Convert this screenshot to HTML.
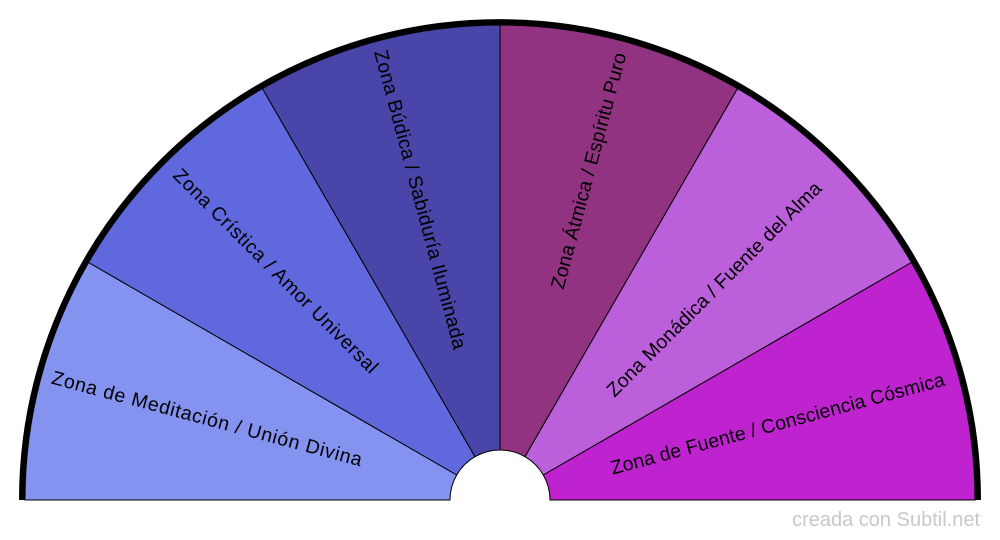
<!DOCTYPE html>
<html><head><meta charset="utf-8"><style>
html,body{margin:0;padding:0;background:#fff;}
svg{display:block;}
text{font-family:"Liberation Sans",Arial,sans-serif;font-size:19.5px;fill:#000;}
</style></head><body>
<svg width="1000" height="540" viewBox="0 0 1000 540" xmlns="http://www.w3.org/2000/svg">
<g stroke="#000" stroke-width="1">
<path d="M25,500 A475,475 0 0 1 88.6,262.5 L456.7,475 A50,50 0 0 0 450,500 Z" fill="#8593F0"/>
<path d="M88.6,262.5 A475,475 0 0 1 262.5,88.6 L475,456.7 A50,50 0 0 0 456.7,475 Z" fill="#5F68DD"/>
<path d="M262.5,88.6 A475,475 0 0 1 500,25 L500,450 A50,50 0 0 0 475,456.7 Z" fill="#4A45A8"/>
<path d="M500,25 A475,475 0 0 1 737.5,88.6 L525,456.7 A50,50 0 0 0 500,450 Z" fill="#913380"/>
<path d="M737.5,88.6 A475,475 0 0 1 911.4,262.5 L543.3,475 A50,50 0 0 0 525,456.7 Z" fill="#BC5FDB"/>
<path d="M911.4,262.5 A475,475 0 0 1 975,500 L550,500 A50,50 0 0 0 543.3,475 Z" fill="#BF22CF"/>
</g>
<path d="M22,500 A478,478 0 0 1 978,500" fill="none" stroke="#000" stroke-width="6"/>
<text text-anchor="middle" dominant-baseline="middle" letter-spacing="0.7" transform="translate(207,420) rotate(15)">Zona de Meditación / Unión Divina</text>
<text text-anchor="middle" dominant-baseline="middle" letter-spacing="0.55" transform="translate(275,272) rotate(45)">Zona Crística / Amor Universal</text>
<text text-anchor="middle" dominant-baseline="middle" letter-spacing="0.3" transform="translate(419,200) rotate(75)">Zona Búdica / Sabiduría Iluminada</text>
<text text-anchor="middle" dominant-baseline="middle" letter-spacing="0.2" transform="translate(590,171) rotate(-75)">Zona Átmica / Espíritu Puro</text>
<text text-anchor="middle" dominant-baseline="middle" letter-spacing="0.1" transform="translate(715,290) rotate(-45)">Zona Monádica / Fuente del Alma</text>
<text text-anchor="middle" dominant-baseline="middle" letter-spacing="0.1" transform="translate(778,425) rotate(-15)">Zona de Fuente / Consciencia Cósmica</text>
<text x="980" y="526" text-anchor="end" style="font-size:20px;fill:#c8c8c8">creada con Subtil.net</text>
</svg>
</body></html>
